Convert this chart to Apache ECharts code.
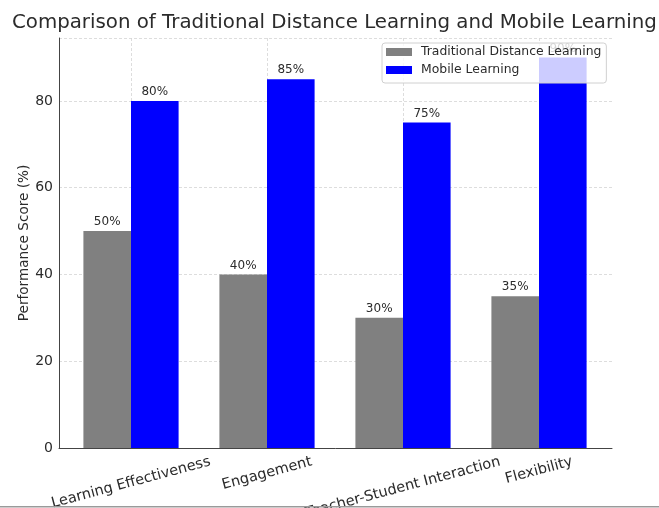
<!DOCTYPE html>
<html>
<head>
<meta charset="utf-8">
<script src="https://cdn.jsdelivr.net/npm/echarts@6/dist/echarts.min.js"></script>
<style>html,body{margin:0;padding:0;background:#fff;}#c{width:659px;height:508px;}</style>
</head>
<body>
<div id="c"></div>
<script>
const categories = ['Learning Effectiveness', 'Engagement', 'Teacher-Student Interaction', 'Flexibility'];
const traditional = [50, 40, 30, 35];
const mobile = [80, 85, 75, 90];
const yTicks = [0, 20, 40, 60, 80];
const seriesNames = ['Traditional Distance Learning', 'Mobile Learning'];

const FONT = 'DejaVu Sans';
const TXT = '#2b2b2b';
const XFS = 14.5;               // x tick label font size
const ROT = 15;                 // rotation in degrees
const TOP_OFF = 6.5;            // gap between axis and the rotated label bounding-box top
const BASE_MARGIN = 4;

// emulate matplotlib's "bounding box top aligned" rotated labels with rich-text spacers
const ctx = document.createElement('canvas').getContext('2d');
ctx.font = XFS + 'px "' + FONT + '"';
const th = ROT * Math.PI / 180;
const rich = {t: {fontFamily: FONT, fontSize: XFS, color: TXT}};
categories.forEach(function (c, i) {
  const w = ctx.measureText(c).width;
  const H = w * Math.sin(th) + XFS * Math.cos(th);
  const d = TOP_OFF + H / 2 - BASE_MARGIN;
  const S = 2 * d * Math.cos(th);
  const R = S * Math.tan(th);
  rich['s' + i] = {height: S, lineHeight: S, fontSize: 1, width: 1};
  rich['r' + i] = {width: R, fontSize: 1};
});

const chart = echarts.init(document.getElementById('c'), null, {renderer: 'canvas'});
const gridLine = {show: true, lineStyle: {color: '#d4d4d4', type: [3, 2], width: 0.8}};
const labelCfg = {show: true, position: 'top', distance: 3, formatter: '{c}%', fontFamily: FONT, fontSize: 12, color: TXT};

chart.setOption({
  animation: false,
  backgroundColor: '#fff',
  title: {
    text: 'Comparison of Traditional Distance Learning and Mobile Learning',
    left: 7, top: 8,
    textStyle: {fontFamily: FONT, fontSize: 19.8, fontWeight: 'normal', color: TXT}
  },
  legend: {
    orient: 'vertical', left: 382, top: 43,
    icon: 'rect', itemWidth: 26, itemHeight: 8, itemGap: 6,
    padding: [3, 5, 7, 4],
    backgroundColor: 'rgba(255,255,255,0.8)', borderColor: '#d0d0d0', borderWidth: 1, borderRadius: 3,
    textStyle: {fontFamily: FONT, fontSize: 12.4, color: TXT, padding: [0, 0, 0, 4]},
    data: seriesNames
  },
  grid: [
    {left: 59, right: 47, top: 38, bottom: 60, containLabel: false, outerBoundsMode: 'none'},
    {left: 63, right: 52, top: 38, bottom: 60, containLabel: false, outerBoundsMode: 'none'}
  ],
  xAxis: [
    {type: 'value', gridIndex: 0, min: 0, max: 1, axisLine: {show: true, onZero: false, lineStyle: {color: '#444', width: 1}},
     axisTick: {show: false}, axisLabel: {show: false}, splitLine: {show: false}},
    {type: 'category', gridIndex: 1, data: categories, boundaryGap: true,
     axisLine: {show: false}, axisTick: {show: false, alignWithLabel: true},
     splitLine: Object.assign({alignWithLabel: true}, gridLine),
     axisLabel: {rotate: ROT, align: 'center', verticalAlign: 'middle', margin: BASE_MARGIN, hideOverlap: false,
       fontFamily: FONT, fontSize: XFS, color: TXT, interval: 0, rich: rich,
       formatter: function (v, i) { return '{s' + i + '| }\n{t|' + v + '}{r' + i + '| }'; }}}
  ],
  yAxis: [
    {type: 'value', gridIndex: 0, min: 0, max: 94.5, interval: 20,
     axisLine: {show: true, lineStyle: {color: '#444', width: 1}}, axisTick: {show: false},
     axisLabel: {margin: 6, fontFamily: FONT, fontSize: 14, color: TXT, showMaxLabel: false,
       formatter: function (v) { return yTicks.includes(v) ? String(v) : ''; }},
     splitLine: gridLine,
     name: 'Performance Score (%)', nameLocation: 'middle', nameGap: 28, nameMoveOverlap: false,
     nameTextStyle: {fontFamily: FONT, fontSize: 13.6, color: TXT}},
    {type: 'value', gridIndex: 1, min: 0, max: 94.5, show: false}
  ],
  series: [
    {name: seriesNames[0], type: 'bar', xAxisIndex: 1, yAxisIndex: 1, data: traditional,
     barWidth: 47.6, barGap: '0%', itemStyle: {color: '#808080'}, label: labelCfg},
    {name: seriesNames[1], type: 'bar', xAxisIndex: 1, yAxisIndex: 1, data: mobile,
     barWidth: 47.6, barGap: '0%', itemStyle: {color: '#0000ff'}, label: labelCfg}
  ],
  graphic: [
    {type: 'rect', shape: {x: 0, y: 506, width: 659, height: 1.5}, style: {fill: '#9a9a9a'}, silent: true, z: 100}
  ]
});
</script>
</body>
</html>
